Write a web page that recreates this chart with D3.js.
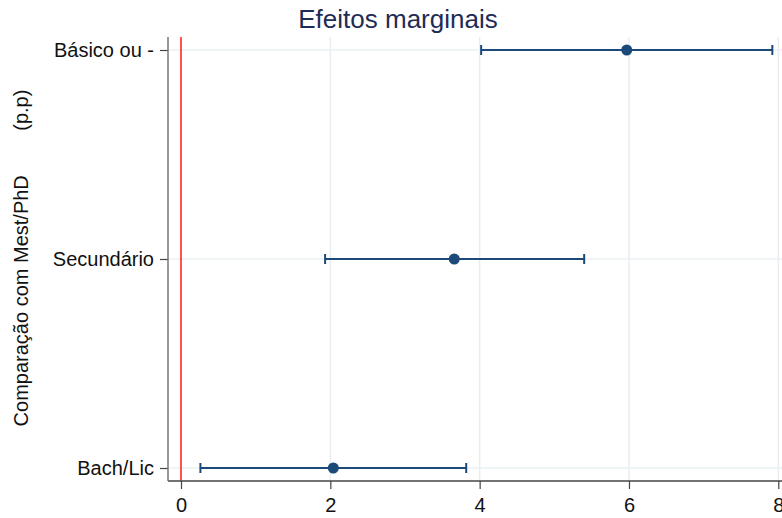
<!DOCTYPE html>
<html>
<head>
<meta charset="utf-8">
<script src="https://cdn.jsdelivr.net/npm/d3@7"></script>
<style>
  body { margin: 0; background: #fff; }
  text { font-family: Arial, "Liberation Sans", sans-serif; }
</style>
</head>
<body>
<div id="chart"></div>
<script>
'use strict';

// data
const categories = ['Básico ou -', 'Secundário', 'Bach/Lic'];
const estimates = [5.97, 3.66, 2.04];
const lowerCI = [4.02, 1.93, 0.26];
const upperCI = [7.92, 5.40, 3.82];
const xTicks = [0, 2, 4, 6, 8];

function makeChart() {
  const width = 782;
  const height = 518;
  const left = 168, top = 37, bottom = 481;

  const svg = d3.select('#chart')
    .append('svg')
    .attr('width', width)
    .attr('height', height);

  const x = d3.scaleLinear().domain([0, 8]).range([181, 778.3]);
  const y = d3.scalePoint().domain(categories).range([50, 468]);

  // vertical gridlines
  svg.selectAll('.vgrid')
    .data(xTicks.filter(function(d) { return d > 0; }))
    .enter()
    .append('line')
    .attr('x1', function(d) { return x(d); })
    .attr('x2', function(d) { return x(d); })
    .attr('y1', top)
    .attr('y2', bottom)
    .attr('stroke', '#e9edf0')
    .attr('stroke-width', 1.5);

  // horizontal gridlines
  svg.selectAll('.hgrid')
    .data(categories)
    .enter()
    .append('line')
    .attr('x1', left)
    .attr('x2', width)
    .attr('y1', function(d) { return y(d); })
    .attr('y2', function(d) { return y(d); })
    .attr('stroke', '#eaf1f3')
    .attr('stroke-width', 1.5);

  // reference line at zero
  svg.append('line')
    .attr('x1', x(0)).attr('x2', x(0))
    .attr('y1', top).attr('y2', bottom)
    .attr('stroke', '#ff1a1a')
    .attr('stroke-width', 1.5);

  // x axis
  const xAxis = svg.append('g')
    .attr('transform', 'translate(0,' + bottom + ')')
    .call(d3.axisBottom(x).tickValues(xTicks).tickSize(8).tickPadding(9).tickSizeOuter(0));
  xAxis.select('.domain').remove();
  xAxis.append('line')
    .attr('x1', left).attr('x2', width)
    .attr('stroke', '#444').attr('stroke-width', 1.5);
  xAxis.selectAll('.tick line').attr('stroke', '#444').attr('stroke-width', 1.2);
  xAxis.selectAll('.tick text')
    .attr('fill', '#111')
    .style('font-size', '20px');

  // y axis
  const yAxis = svg.append('g')
    .attr('transform', 'translate(' + left + ',0)')
    .call(d3.axisLeft(y).tickSize(8).tickPadding(6).tickSizeOuter(0));
  yAxis.select('.domain').remove();
  yAxis.append('line')
    .attr('y1', top).attr('y2', bottom)
    .attr('stroke', '#777').attr('stroke-width', 1.5);
  yAxis.selectAll('.tick line').attr('stroke', '#444').attr('stroke-width', 1.2);
  yAxis.selectAll('.tick text')
    .attr('fill', '#111')
    .style('font-size', '20px');

  // confidence intervals
  const rows = categories.map(function(c, i) {
    return { cat: c, est: estimates[i], lo: lowerCI[i], hi: upperCI[i] };
  });
  const colour = '#1b4a7a';

  const g = svg.selectAll('.ci')
    .data(rows)
    .enter()
    .append('g')
    .attr('class', 'ci');

  g.append('line')
    .attr('x1', function(d) { return x(d.lo); })
    .attr('x2', function(d) { return x(d.hi); })
    .attr('y1', function(d) { return y(d.cat); })
    .attr('y2', function(d) { return y(d.cat); })
    .attr('stroke', colour).attr('stroke-width', 2);

  ['lo', 'hi'].forEach(function(k) {
    g.append('line')
      .attr('x1', function(d) { return x(d[k]); })
      .attr('x2', function(d) { return x(d[k]); })
      .attr('y1', function(d) { return y(d.cat) - 5; })
      .attr('y2', function(d) { return y(d.cat) + 5; })
      .attr('stroke', colour).attr('stroke-width', 2);
  });

  g.append('circle')
    .attr('cx', function(d) { return x(d.est); })
    .attr('cy', function(d) { return y(d.cat); })
    .attr('r', 5.5)
    .attr('fill', colour);

  // title
  svg.append('text')
    .attr('x', 398).attr('y', 28)
    .attr('text-anchor', 'middle')
    .attr('fill', '#1e2c55')
    .style('font-size', '26px')
    .text('Efeitos marginais');

  // y label
  svg.append('text')
    .attr('transform', 'translate(28,258) rotate(-90)')
    .attr('text-anchor', 'middle')
    .attr('fill', '#111')
    .style('font-size', '20px')
    .style('white-space', 'pre')
    .attr('xml:space', 'preserve')
    .text('Comparação com Mest/PhD        (p.p)');
}

makeChart();
</script>
</body>
</html>
